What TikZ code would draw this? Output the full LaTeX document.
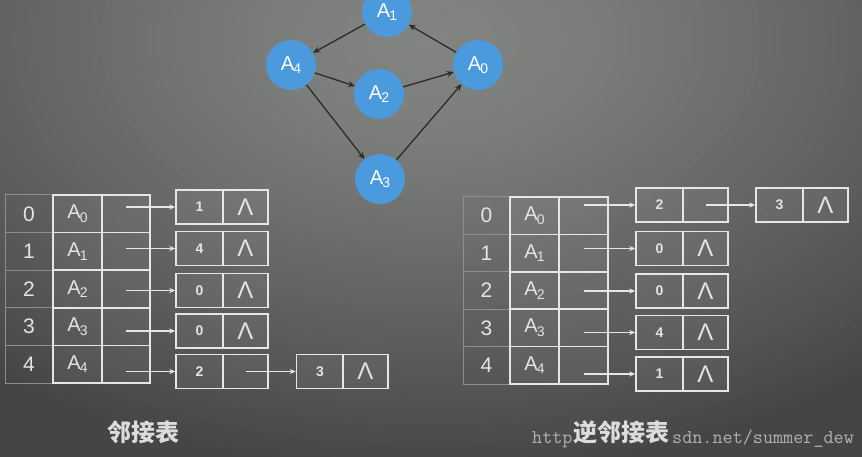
\documentclass[tikz,border=0pt]{standalone}
\usepackage{fontspec}
\setmainfont{Liberation Sans}
\newfontfamily\cjk{Noto Sans CJK SC}
\usetikzlibrary{arrows.meta}
\definecolor{bgF}{RGB}{66,68,66}
\definecolor{nodeblue}{HTML}{4A9ADD}
\definecolor{edgecol}{HTML}{2B2B2B}
\definecolor{cellline}{HTML}{E6E6E6}
\definecolor{idxline}{HTML}{8E8F8D}
\definecolor{txt}{HTML}{E4E4E4}
\definecolor{wmcol}{HTML}{B0B0B0}
\newcommand\Asub[1]{A\kern-0.8pt\raisebox{-3.5pt}{\fontsize{14}{14}\selectfont #1}}
\newcommand\nullsym{\fontsize{24}{24}\selectfont Λ}
\tikzset{
  gnode/.style={circle, fill=nodeblue, minimum size=50pt, inner sep=0pt, text=white, font=\fontsize{20}{20}\selectfont},
  garrow/.style={draw=edgecol, line width=1.3pt, -{Stealth[length=7pt,width=6pt]}},
  idxcell/.style={draw=idxline, line width=1pt, minimum width=48pt, minimum height=37.6pt, inner sep=0pt, text=txt, font=\fontsize{21}{21}\selectfont},
  namecell/.style={draw=cellline, line width=1.5pt, minimum width=49pt, minimum height=37.6pt, inner sep=0pt, text=txt, font=\fontsize{20}{20}\selectfont, fill=white, fill opacity=0.05, text opacity=1},
  datacell/.style={draw=cellline, line width=1.5pt, minimum width=47pt, minimum height=34pt, inner sep=0pt, text=txt, font=\fontsize{14}{14}\selectfont\bfseries, fill=white, fill opacity=0.05, text opacity=1},
  nullcell/.style={draw=cellline, line width=1.5pt, minimum width=45pt, minimum height=34pt, inner sep=0pt, text=txt, fill=white, fill opacity=0.05, text opacity=1},
  ptr/.style={draw=cellline, line width=1.2pt, -{Stealth[length=6pt,width=5pt]}},
  titletext/.style={text=txt!92!gray, font=\cjk\bfseries\fontsize{24}{24}\selectfont, inner sep=1pt},
  wmtext/.style={text=wmcol, font=\ttfamily\fontsize{19.6}{19.6}\selectfont, inner sep=0pt, anchor=base west}
}
\begin{document}
\begin{tikzpicture}[x=1pt,y=-1pt]
\useasboundingbox (0,0) rectangle (862,457);
\fill[bgF] (0,0) rectangle (862,457);
\begin{scope}
\clip (0,0) rectangle (862,457);
\foreach \k in {0,...,71} {
  \pgfmathsetmacro\r{1.13 - \k*1.13/72}
  \pgfmathsetmacro\v{\r<0.23 ? 131-7*\r/0.23 : (\r<0.4 ? 124-11*(\r-0.23)/0.17 : (\r<0.6 ? 113-14*(\r-0.4)/0.2 : (\r<0.82 ? 99-16*(\r-0.6)/0.22 : (\r<1 ? 83-15*(\r-0.82)/0.18 : 68))))}
  \pgfmathtruncatemacro\g{\v}
  \pgfmathtruncatemacro\gg{\v+2}
  \definecolor{bgtmp}{RGB}{\g,\gg,\g}
  \fill[bgtmp] (431,40) ellipse [x radius=700*\r, y radius=440*\r];
}
\end{scope}

% graph
\node[gnode] (A1) at (387,12) {\Asub{1}};
\node[gnode] (A4) at (291,65) {\Asub{4}};
\node[gnode] (A0) at (478,65) {\Asub{0}};
\node[gnode] (A2) at (379,94) {\Asub{2}};
\node[gnode] (A3) at (380,179) {\Asub{3}};
\draw[garrow] (A1) -- (A4);
\draw[garrow] (A0) -- (A1);
\draw[garrow] (A4) -- (A2);
\draw[garrow] (A2) -- (A0);
\draw[garrow] (A4) -- (A3);
\draw[garrow] (A3) -- (A0);

% left table
\node[idxcell] (Li0) at (29,213.8) {0};
\node[idxcell] (Li1) at (29,251.4) {1};
\node[idxcell] (Li2) at (29,289) {2};
\node[idxcell] (Li3) at (29,326.6) {3};
\node[idxcell] (Li4) at (29,364.2) {4};
\node[namecell] (Ln0) at (77.5,213.8) {\Asub{0}};
\node[namecell] (Ln1) at (77.5,251.4) {\Asub{1}};
\node[namecell] (Ln2) at (77.5,289) {\Asub{2}};
\node[namecell] (Ln3) at (77.5,326.6) {\Asub{3}};
\node[namecell] (Ln4) at (77.5,364.2) {\Asub{4}};
\node[namecell, minimum width=48pt] (Lp0) at (126,213.8) {};
\node[namecell, minimum width=48pt] (Lp1) at (126,251.4) {};
\node[namecell, minimum width=48pt] (Lp2) at (126,289) {};
\node[namecell, minimum width=48pt] (Lp3) at (126,326.6) {};
\node[namecell, minimum width=48pt] (Lp4) at (126,364.2) {};

\node[datacell] (Lb0) at (199.5,207) {1};
\node[nullcell] (Lx0) at (245.5,207) {\nullsym};
\node[datacell] (Lb1) at (199.5,248.5) {4};
\node[nullcell] (Lx1) at (245.5,248.5) {\nullsym};
\node[datacell] (Lb2) at (199.5,290.5) {0};
\node[nullcell] (Lx2) at (245.5,290.5) {\nullsym};
\node[datacell] (Lb3) at (199.5,331) {0};
\node[nullcell] (Lx3) at (245.5,331) {\nullsym};
\node[datacell] (Lb4) at (199.5,371.5) {2};
\node[nullcell] (Lx4) at (245.5,371.5) {};
\node[datacell] (Lc4) at (320,371.5) {3};
\node[nullcell] (Ly4) at (365.5,371.5) {\nullsym};

\draw[ptr] (Lp0.center |- Lb0.west) -- (Lb0.west);
\draw[ptr] (Lp1.center |- Lb1.west) -- (Lb1.west);
\draw[ptr] (Lp2.center |- Lb2.west) -- (Lb2.west);
\draw[ptr] (Lp3.center |- Lb3.west) -- (Lb3.west);
\draw[ptr] (Lp4.center |- Lb4.west) -- (Lb4.west);
\draw[ptr] (Lx4.center) -- (Lc4.west);

% right table
\node[idxcell, minimum width=47pt, minimum height=37.4pt] (Ri0) at (486.5,215.7) {0};
\node[idxcell, minimum width=47pt, minimum height=37.4pt] (Ri1) at (486.5,253.1) {1};
\node[idxcell, minimum width=47pt, minimum height=37.4pt] (Ri2) at (486.5,290.5) {2};
\node[idxcell, minimum width=47pt, minimum height=37.4pt] (Ri3) at (486.5,327.9) {3};
\node[idxcell, minimum width=47pt, minimum height=37.4pt] (Ri4) at (486.5,365.3) {4};
\node[namecell, minimum height=37.4pt] (Rn0) at (534.5,215.7) {\Asub{0}};
\node[namecell, minimum height=37.4pt] (Rn1) at (534.5,253.1) {\Asub{1}};
\node[namecell, minimum height=37.4pt] (Rn2) at (534.5,290.5) {\Asub{2}};
\node[namecell, minimum height=37.4pt] (Rn3) at (534.5,327.9) {\Asub{3}};
\node[namecell, minimum height=37.4pt] (Rn4) at (534.5,365.3) {\Asub{4}};
\node[namecell, minimum height=37.4pt] (Rp0) at (583.5,215.7) {};
\node[namecell, minimum height=37.4pt] (Rp1) at (583.5,253.1) {};
\node[namecell, minimum height=37.4pt] (Rp2) at (583.5,290.5) {};
\node[namecell, minimum height=37.4pt] (Rp3) at (583.5,327.9) {};
\node[namecell, minimum height=37.4pt] (Rp4) at (583.5,365.3) {};

\node[datacell] (Rb0) at (659.5,205) {2};
\node[nullcell] (Rx0) at (705.5,205) {};
\node[datacell] (Rc0) at (779.5,205) {3};
\node[nullcell] (Ry0) at (825.5,205) {\nullsym};
\node[datacell] (Rb1) at (659.5,248.5) {0};
\node[nullcell] (Rx1) at (705.5,248.5) {\nullsym};
\node[datacell] (Rb2) at (659.5,291) {0};
\node[nullcell] (Rx2) at (705.5,291) {\nullsym};
\node[datacell] (Rb3) at (659.5,332.5) {4};
\node[nullcell] (Rx3) at (705.5,332.5) {\nullsym};
\node[datacell] (Rb4) at (659.5,374) {1};
\node[nullcell] (Rx4) at (705.5,374) {\nullsym};

\draw[ptr] (Rp0.center |- Rb0.west) -- (Rb0.west);
\draw[ptr] (Rp1.center |- Rb1.west) -- (Rb1.west);
\draw[ptr] (Rp2.center |- Rb2.west) -- (Rb2.west);
\draw[ptr] (Rp3.center |- Rb3.west) -- (Rb3.west);
\draw[ptr] (Rp4.center |- Rb4.west) -- (Rb4.west);
\draw[ptr] (Rx0.center) -- (Rc0.west);

% titles and watermark (visible parts)
\node[wmtext] (wm1) at (532,443) {http};
\node[wmtext] (wm2) at (672,443) {sdn.net/summer\textunderscore dew};
\node[titletext] (t1) at (143,432) {邻接表};
\node[titletext] (t2) at (621,432) {逆邻接表};
\end{tikzpicture}
\end{document}
